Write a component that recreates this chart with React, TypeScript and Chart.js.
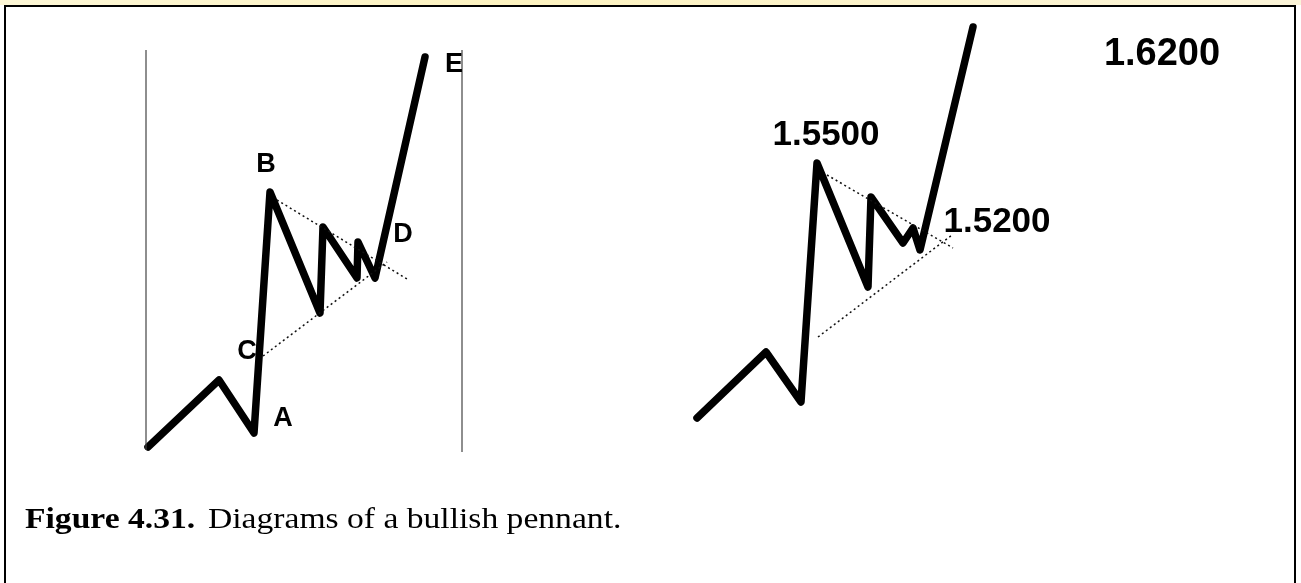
import React, { useEffect, useRef } from "react";
import { Chart, registerables } from "chart.js";

Chart.register(...registerables);

// Diagram coordinate system (x: time units, y: price-level units, top = 0)
const leftPathX = [148, 219, 254, 270, 320, 323, 357, 358, 375, 425];
const leftPathY = [447, 380, 433, 192, 313, 227, 278, 242, 278, 57];
const leftUpperX = [277, 407];
const leftUpperY = [200, 279];
const leftLowerX = [263, 387];
const leftLowerY = [356, 262];
const leftFrameLX = [146, 146];
const leftFrameLY = [50, 450];
const leftFrameRX = [462, 462];
const leftFrameRY = [50, 452];

const rightPathX = [697, 766, 801, 817, 868, 871, 903, 913, 920, 973];
const rightPathY = [418, 352, 402, 163, 287, 197, 243, 228, 250, 27];
const rightUpperX = [827, 953];
const rightUpperY = [175, 248];
const rightLowerX = [818, 952];
const rightLowerY = [337, 235];

const pointLabels = ["A", "B", "C", "D", "E"];
const pointLabelX = [283, 266, 247, 403, 454];
const pointLabelY = [419, 165, 352, 235, 65];

const priceLabels = ["1.5500", "1.5200", "1.6200"];
const priceLabelX = [826, 997, 1162];
const priceLabelY = [135, 222, 55];

const captionBold = "Figure 4.31.";
const captionText = "Diagrams of a bullish pennant.";

const W = 1301;
const H = 583;

function toPts(xs: number[], ys: number[]) {
  return xs.map((x, i) => ({ x, y: ys[i] }));
}

export default function App() {
  const ref = useRef<HTMLCanvasElement | null>(null);

  useEffect(() => {
    if (!ref.current) return;
    const decor = {
      id: "decor",
      beforeDraw(chart: any) {
        const ctx = chart.ctx;
        ctx.save();
        ctx.fillStyle = "#ffffff";
        ctx.fillRect(0, 0, W, H);
        const g = ctx.createLinearGradient(0, 0, W, 0);
        g.addColorStop(0, "#fdf7d6");
        g.addColorStop(0.4, "#fdf3c0");
        g.addColorStop(1, "#fbf4d8");
        ctx.fillStyle = g;
        ctx.fillRect(0, 0, W, 5);
        ctx.strokeStyle = "#000000";
        ctx.lineWidth = 2;
        ctx.beginPath();
        ctx.moveTo(5, H + 5);
        ctx.lineTo(5, 6);
        ctx.lineTo(1295, 6);
        ctx.lineTo(1295, H + 5);
        ctx.stroke();
        ctx.restore();
      },
      afterDraw(chart: any) {
        const ctx = chart.ctx;
        const xs = chart.scales.x;
        const ys = chart.scales.y;
        ctx.save();
        ctx.fillStyle = "#000000";
        ctx.textAlign = "center";
        ctx.textBaseline = "middle";
        ctx.font = "bold 27px 'Liberation Sans', Arial, sans-serif";
        pointLabels.forEach((t, i) => {
          ctx.fillText(t, xs.getPixelForValue(pointLabelX[i]), ys.getPixelForValue(pointLabelY[i]));
        });
        priceLabels.forEach((t, i) => {
          ctx.font = i === 2
            ? "bold 38px 'Liberation Sans', Arial, sans-serif"
            : "bold 35px 'Liberation Sans', Arial, sans-serif";
          ctx.fillText(t, xs.getPixelForValue(priceLabelX[i]), ys.getPixelForValue(priceLabelY[i]));
        });
        ctx.restore();

        // caption (slightly widened serif, as in the scanned figure)
        ctx.save();
        ctx.fillStyle = "#000000";
        ctx.textAlign = "left";
        ctx.textBaseline = "alphabetic";
        ctx.translate(25, 528);
        ctx.scale(1.12, 1);
        ctx.font = "bold 30px 'Liberation Serif', 'Times New Roman', serif";
        ctx.fillText(captionBold, 0, 0);
        ctx.font = "30px 'Liberation Serif', 'Times New Roman', serif";
        ctx.fillText(captionText, (208 - 25) / 1.12, 0);
        ctx.restore();
      },
    };

    const thick = (xs: number[], ys: number[]) => ({
      data: toPts(xs, ys),
      borderColor: "#000000",
      borderWidth: 7.5,
      borderJoinStyle: "round" as const,
      borderCapStyle: "round" as const,
      pointRadius: 0,
      tension: 0,
      fill: false,
    });
    const dotted = (xs: number[], ys: number[]) => ({
      data: toPts(xs, ys),
      borderColor: "#111111",
      borderWidth: 1.5,
      borderDash: [2, 3],
      pointRadius: 0,
      tension: 0,
      fill: false,
    });
    const frame = (xs: number[], ys: number[]) => ({
      data: toPts(xs, ys),
      borderColor: "#444444",
      borderWidth: 1.2,
      pointRadius: 0,
      tension: 0,
      fill: false,
    });

    const chart = new Chart(ref.current, {
      type: "line",
      data: {
        datasets: [
          frame(leftFrameLX, leftFrameLY),
          frame(leftFrameRX, leftFrameRY),
          dotted(leftUpperX, leftUpperY),
          dotted(leftLowerX, leftLowerY),
          dotted(rightUpperX, rightUpperY),
          dotted(rightLowerX, rightLowerY),
          thick(leftPathX, leftPathY),
          thick(rightPathX, rightPathY),
        ] as any,
      },
      options: {
        animation: false,
        responsive: false,
        parsing: false as any,
        layout: { padding: 0 },
        plugins: { legend: { display: false }, tooltip: { enabled: false } },
        scales: {
          x: { type: "linear", min: 0, max: W, display: false },
          y: { type: "linear", min: 0, max: H, reverse: true, display: false },
        },
      },
      plugins: [decor],
    });
    return () => chart.destroy();
  }, []);

  return (
    <div style={{ position: "fixed", left: 0, top: 0, width: W, height: H, background: "#fff" }}>
      <canvas ref={ref} width={W} height={H} style={{ display: "block", width: W, height: H }} />
    </div>
  );
}
